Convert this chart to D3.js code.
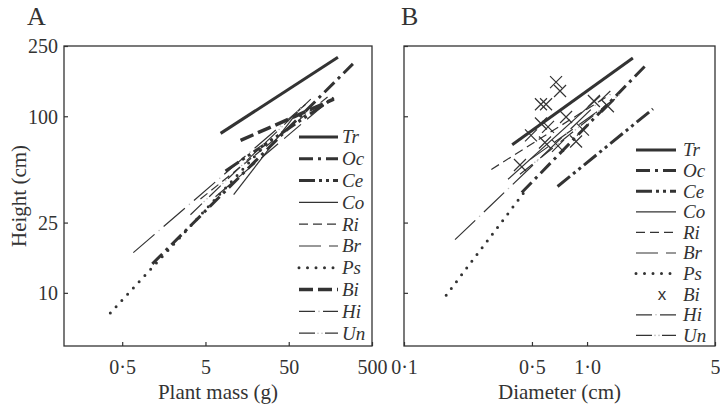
<!DOCTYPE html>
<html><head><meta charset="utf-8">
<script src="https://cdn.jsdelivr.net/npm/d3@7"></script>
<style>body{margin:0;background:#fff}</style>
</head><body>
<svg id="c" width="720" height="408"></svg>
<script>
// ---------- data ----------
const species = ["Tr","Oc","Ce","Co","Ri","Br","Ps","Bi","Hi","Un"];
// Panel A: fitted lines, plant mass (g) -> height (cm)
const aMass0   = [7.6, 1.15, 8.7, 10.9, 4.35, 6.6, 0.36, 13.2, 0.68, 3.3];
const aMass1   = [195, 295, 174, 70, 160, 160, 30, 174, 80, 92];
const aHeight0 = [80, 14.6, 49, 36, 34, 35, 7.7, 73, 16.9, 27.7];
const aHeight1 = [216, 198, 127, 112, 133, 125, 74, 125, 117, 125];
// Panel B: fitted lines, diameter (cm) -> height (cm); Bi shown as points
const bDiam0   = [0.39, 0.44, 0.69, 0.37, 0.30, 0.49, 0.17, null, 0.19, 0.43];
const bDiam1   = [1.78, 2.13, 2.29, 1.18, 1.34, 1.42, 0.47, null, 1.34, 1.51];
const bHeight0 = [69, 37, 40, 44, 50, 57, 9.7, null, 20, 47];
const bHeight1 = [214, 198, 110, 130, 133, 125, 39, null, 139, 133];
const biDiam   = [0.677, 0.712, 0.56, 0.597, 0.56, 0.612, 0.494, 0.589, 0.694, 0.768, 0.95, 0.871, 1.09, 1.30, 0.43];
const biHeight = [156, 139, 117, 117, 91, 87, 78, 71, 68, 99, 84, 72, 122, 114, 53];
// ticks
const yTicks = [10, 25, 100, 250];
const yTickLabels = ["10", "25", "100", "250"];
const xTicksA = [0.5, 5, 50, 500];
const xTickLabelsA = ["0·5", "5", "50", "500"];
const xTicksB = [0.1, 0.5, 1, 5];
const xTickLabelsB = ["0·1", "0·5", "1·0", "5"];

// ---------- styles ----------
const ink = "#333";
const faint = "#bbb";
const styles = {
  Tr: {w: 3},
  Oc: {w: 3, dash: "14,5,3,5"},
  Ce: {w: 3, dash: "16,4,3,4,3,4"},
  Co: {w: 1.2},
  Ri: {w: 1.2, dash: "9,5"},
  Br: {w: 1.2, dash: "22,8"},
  Ps: {w: 3, dash: "0,8.5", cap: "round"},
  Bi: {w: 3.5, dash: "14,5"},
  Hi: {w: 1.2, dash: "16,8", dots: {arr: "0,24", off: -20},
       pdash: "28,12", pdots: {arr: "0,40", off: -34}},
  Un: {w: 1.2, dash: "16,10", dots: {arr: "0,4,0,22", off: -19}}
};

const svg = d3.select("#c");
const serif = "'Liberation Serif','Times New Roman',serif";
const yTop = 46, yBottom = 346;
const y = d3.scaleLog().domain([5, 250]).range([yBottom, yTop]);

function strokeLine(g, x1, y1, x2, y2, s, inPlot) {
  const dash = inPlot && s.pdash ? s.pdash : s.dash;
  const dots = inPlot && s.pdots ? s.pdots : s.dots;
  g.append("line").attr("x1", x1).attr("y1", y1).attr("x2", x2).attr("y2", y2)
    .attr("stroke", ink).attr("stroke-width", s.w)
    .attr("stroke-dasharray", dash || null)
    .attr("stroke-linecap", s.cap || "butt");
  if (dots) {
    g.append("line").attr("x1", x1).attr("y1", y1).attr("x2", x2).attr("y2", y2)
      .attr("stroke", faint).attr("stroke-width", 1.6)
      .attr("stroke-dasharray", dots.arr).attr("stroke-dashoffset", dots.off)
      .attr("stroke-linecap", "round");
  }
}

function panel(cfg) {
  const x = cfg.x;
  const g = svg.append("g");
  const [x0, x1] = x.range();
  const ya = d3.axisLeft(y).tickValues(yTicks).tickSize(-4).tickPadding(6)
    .tickFormat((d, i) => cfg.yLabels ? yTickLabels[i] : "");
  const ga = g.append("g").attr("transform", `translate(${x0},0)`).call(ya);
  const xa = d3.axisBottom(x).tickValues(cfg.xt).tickSize(-4).tickPadding(14)
    .tickFormat((d, i) => cfg.xl[i]);
  const gb = g.append("g").attr("transform", `translate(0,${yBottom})`).call(xa);
  [ga, gb].forEach(a => {
    a.select(".domain").remove();
    a.selectAll("line").attr("stroke", ink).attr("stroke-width", 1.2);
    a.selectAll("text").attr("font-family", serif).attr("font-size", 20).attr("fill", ink);
  });
  ga.selectAll("text").attr("dy", "0.34em");
  g.append("rect").attr("x", x0).attr("y", yTop).attr("width", x1 - x0).attr("height", yBottom - yTop)
    .attr("fill", "none").attr("stroke", ink).attr("stroke-width", 1.3);
  const lg = g.append("g");
  species.forEach((sp, i) => {
    if (cfg.d0[i] == null) return;
    strokeLine(lg, x(cfg.d0[i]), y(cfg.h0[i]), x(cfg.d1[i]), y(cfg.h1[i]), styles[sp], true);
  });
  if (cfg.points) {
    const s = 6;
    cfg.points.forEach(p => {
      const px = x(p[0]), py = y(p[1]);
      lg.append("path").attr("d", `M${px - s},${py - s}L${px + s},${py + s}M${px - s},${py + s}L${px + s},${py - s}`)
        .attr("stroke", ink).attr("stroke-width", 1.2).attr("fill", "none");
    });
  }
  const L = cfg.legend;
  species.forEach((sp, i) => {
    const ry = L.y0 + i * L.dy;
    if (sp === "Bi" && cfg.points) {
      g.append("text").attr("x", L.xa + 26).attr("y", ry).attr("dy", "0.34em")
        .attr("text-anchor", "middle").attr("font-family", "'Liberation Sans',sans-serif")
        .attr("font-size", 17).attr("fill", ink).text("x");
    } else {
      strokeLine(g, L.xa, ry, L.xb, ry, styles[sp], false);
    }
    g.append("text").attr("x", L.xt).attr("y", ry).attr("dy", "0.34em")
      .attr("font-family", serif).attr("font-style", "italic").attr("font-size", 19)
      .attr("fill", ink).text(sp);
  });
  g.append("text").attr("x", (x0 + x1) / 2).attr("y", 399).attr("text-anchor", "middle")
    .attr("font-family", serif).attr("font-size", 21).attr("fill", ink).text(cfg.xTitle);
  g.append("text").attr("x", cfg.letterX).attr("y", 25)
    .attr("font-family", serif).attr("font-size", 26).attr("fill", ink).text(cfg.letter);
}

panel({
  x: d3.scaleLog().domain([0.1, 500]).range([64, 372]),
  xt: xTicksA, xl: xTickLabelsA, yLabels: true,
  d0: aMass0, d1: aMass1, h0: aHeight0, h1: aHeight1,
  legend: {xa: 299, xb: 338, xt: 342, y0: 137, dy: 21.8},
  xTitle: "Plant mass (g)", letter: "A", letterX: 27
});
panel({
  x: d3.scaleLog().domain([0.1, 5]).range([404, 715]),
  xt: xTicksB, xl: xTickLabelsB, yLabels: false,
  d0: bDiam0, d1: bDiam1, h0: bHeight0, h1: bHeight1,
  points: biDiam.map((d, i) => [d, biHeight[i]]),
  legend: {xa: 636, xb: 676, xt: 683, y0: 150, dy: 20.6},
  xTitle: "Diameter (cm)", letter: "B", letterX: 401
});

svg.append("text").attr("transform", "translate(26,196) rotate(-90)").attr("text-anchor", "middle")
  .attr("font-family", serif).attr("font-size", 21).attr("fill", ink).text("Height (cm)");
</script>
</body></html>
